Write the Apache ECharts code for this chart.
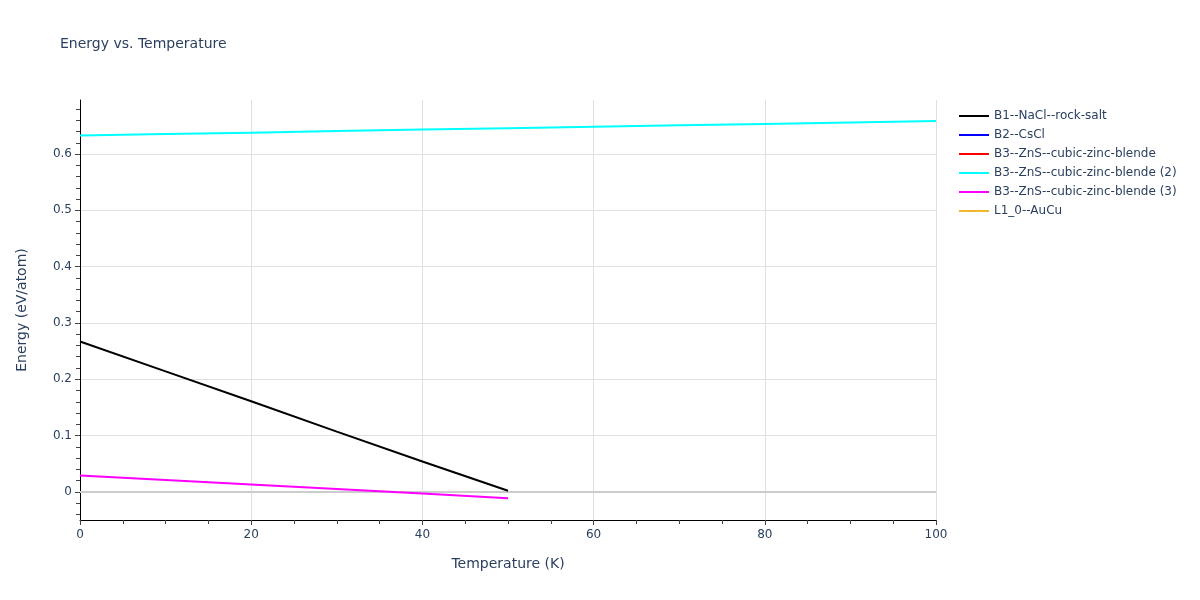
<!DOCTYPE html>
<html>
<head>
<meta charset="utf-8">
<script src="https://cdn.jsdelivr.net/npm/echarts@6/dist/echarts.min.js"></script>
<style>html,body{margin:0;padding:0;background:#fff;}#chart{width:1200px;height:600px;}</style>
</head>
<body>
<div id="chart"></div>
<script>
const seriesNames = ['B1--NaCl--rock-salt','B2--CsCl','B3--ZnS--cubic-zinc-blende','B3--ZnS--cubic-zinc-blende (2)','B3--ZnS--cubic-zinc-blende (3)','L1_0--AuCu'];
const seriesColors = ['#000000','#0000ff','#ff0000','#00ffff','#ff00ff','#f0b82a'];
const tempShort = [0,10,20,30,40,50];
const tempLong = [0,10,20,30,40,50,60,70,80,90,100];
const energyB1 = [0.267,0.214,0.161,0.107,0.054,0.002];
const energyB3_2 = [0.633,0.6355,0.638,0.641,0.6435,0.646,0.6485,0.651,0.6535,0.656,0.6586];
const energyB3_3 = [0.029,0.021,0.013,0.005,-0.003,-0.0115];
const yMajorTicks = [0,0.1,0.2,0.3,0.4,0.5,0.6];
const yMinorTicks = [-0.04,-0.02,0,0.02,0.04,0.06,0.08,0.1,0.12,0.14,0.16,0.18,0.2,0.22,0.24,0.26,0.28,0.3,0.32,0.34,0.36,0.38,0.4,0.42,0.44,0.46,0.48,0.5,0.52,0.54,0.56,0.58,0.6,0.62,0.64,0.66,0.68];

const pair = (xs, ys) => xs.map((x, i) => [x, ys[i]]);
const seriesData = [pair(tempShort, energyB1), [], [], pair(tempLong, energyB3_2), pair(tempShort, energyB3_3), []];

const txt = '#2a3f5f';
const FONT = 'DejaVu Sans, Verdana, sans-serif';
const chart = echarts.init(document.getElementById('chart'));
const series = seriesNames.map((name, i) => ({
  name, type: 'line', data: seriesData[i], symbol: 'none',
  lineStyle: {width: 2, color: seriesColors[i]}, itemStyle: {color: seriesColors[i]},
  z: 3, animation: false
}));
series[0].markLine = {
  silent: true, symbol: 'none', label: {show: false}, animation: false,
  lineStyle: {color: '#cccccc', width: 2, type: 'solid'},
  data: [{yAxis: 0}], z: 1
};
chart.setOption({
  animation: false,
  backgroundColor: '#ffffff',
  title: {text: 'Energy vs. Temperature', left: 55, top: 32,
    textStyle: {fontFamily: FONT, fontSize: 14, fontWeight: 'normal', color: txt}},
  legend: {
    orient: 'vertical', left: 953, top: 105, itemWidth: 30, itemHeight: 2, itemGap: 7,
    data: seriesNames,
    textStyle: {fontFamily: FONT, fontSize: 12, color: txt}
  },
  grid: {left: 80, right: 264, top: 100, bottom: 80, containLabel: false},
  xAxis: {
    type: 'value', min: 0, max: 100, interval: 20,
    name: 'Temperature (K)', nameLocation: 'middle', nameGap: 37,
    nameTextStyle: {fontFamily: FONT, fontSize: 14, color: txt},
    axisLine: {show: true, onZero: false, lineStyle: {color: '#000', width: 1}},
    axisTick: {show: true, inside: false, length: 5, lineStyle: {color: '#444'}},
    minorTick: {show: true, splitNumber: 4, length: 4, lineStyle: {color: '#444'}},
    axisLabel: {fontFamily: FONT, fontSize: 12, color: txt, margin: 9},
    splitLine: {show: true, lineStyle: {color: '#e0e0e0', width: 1}}
  },
  yAxis: [{
    type: 'value', min: -0.05, max: 0.696,
    name: 'Energy (eV/atom)', nameLocation: 'middle', nameGap: 51, nameRotate: 90,
    nameTextStyle: {fontFamily: FONT, fontSize: 14, color: txt},
    axisLine: {show: true, onZero: false, lineStyle: {color: '#000', width: 1}},
    axisTick: {show: true, length: 5, customValues: yMajorTicks, lineStyle: {color: '#444'}},
    axisLabel: {customValues: yMajorTicks, fontFamily: FONT, fontSize: 12, color: txt, margin: 8,
      formatter: v => (Math.abs(v) < 1e-9 ? '0' : (+v.toFixed(2)).toString())},
    splitLine: {show: true, lineStyle: {color: '#e0e0e0', width: 1}}
  }, {
    type: 'value', min: -0.05, max: 0.696, position: 'left', offset: 0,
    axisLine: {show: false},
    axisTick: {show: true, length: 4, customValues: yMinorTicks, lineStyle: {color: '#444'}},
    axisLabel: {show: false},
    splitLine: {show: false}
  }],
  series
});
</script>
</body>
</html>
